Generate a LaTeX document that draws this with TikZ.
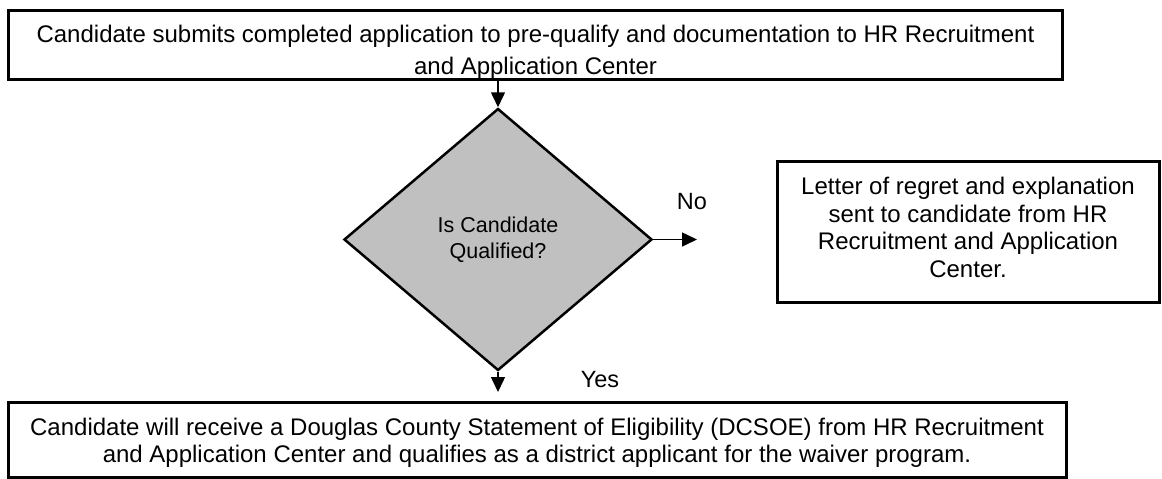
\documentclass[tikz,border=0pt]{standalone}
\usepackage{fontspec}
\setmainfont{Liberation Sans}
\usetikzlibrary{shapes.geometric, arrows.meta}
\definecolor{decisiongray}{RGB}{192,192,192}
\tikzstyle{box} = [rectangle, draw=black, line width=3pt, fill=white, inner sep=0pt]
\tikzstyle{frame} = [draw=black, line width=3pt]
\tikzstyle{boxtext} = [align=center, inner sep=0pt, font=\fontsize{24}{27.5}\selectfont]
\tikzstyle{decision} = [diamond, draw=black, line width=2.5pt, fill=decisiongray, minimum width=308pt, minimum height=262pt, inner sep=0pt, align=center, font=\fontsize{21.5}{26}\selectfont]
\tikzstyle{arrow} = [line width=1.5pt, -{Triangle[length=15pt,width=14pt]}]

\begin{document}
\begin{tikzpicture}[x=1pt, y=-1pt]
    \useasboundingbox (0,0) rectangle (1162,479);

    % application box, its second line runs under the frame
    \node (submit) [rectangle, inner sep=0pt, minimum width=1054pt, minimum height=68pt] at (535.5,45) {};
    \begin{scope}
        \clip (submit.south west) rectangle (submit.north east);
        \node (submittext) [boxtext, anchor=north] at (535.5,25) {Candidate submits completed application to pre-qualify and documentation to HR Recruitment\\[4pt]and Application Center};
    \end{scope}
    \draw [frame] (submit.south west) rectangle (submit.north east);

    \node (decide) [decision] at (498,239.5) {Is Candidate\\Qualified?};
    \node (regret) [box, minimum width=382pt, minimum height=141pt, boxtext] at (968,231.5) {Letter of regret and explanation\\sent to candidate from HR\\Recruitment and Application\\Center.\rule[-8pt]{0pt}{8pt}};
    \node (eligible) [box, minimum width=1058pt, minimum height=75pt, boxtext] at (537,439.5) {\rule{0pt}{24pt}Candidate will receive a Douglas County Statement of Eligibility (DCSOE) from HR Recruitment\\and Application Center and qualifies as a district applicant for the waiver program.};

    \coordinate (noend) at (697,239.5);
    \coordinate (yesend) at (498,392);
    \node (nolabel) [font=\fontsize{23.5}{27}\selectfont] at (692,202) {No};
    \node (yeslabel) [font=\fontsize{23.5}{27}\selectfont] at (600,380) {Yes};

    \draw [arrow] (submit.south -| decide.north) -- (decide.north);
    \draw [arrow] (decide.east) -- (noend);
    \draw [arrow] (decide.south) -- (yesend);
\end{tikzpicture}
\end{document}
